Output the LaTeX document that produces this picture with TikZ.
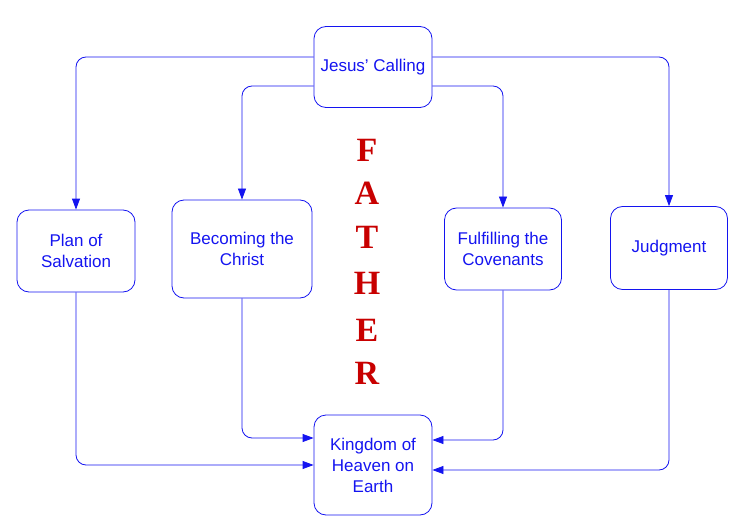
\documentclass[tikz,border=0pt]{standalone}
\usepackage{fontspec}
\setmainfont{Liberation Sans}
\newfontfamily\fatherfont{Liberation Serif}
\usetikzlibrary{arrows.meta}
\definecolor{boxblue}{RGB}{20,20,240}
\definecolor{fatherred}{RGB}{200,0,0}
\tikzset{
    stage/.style={draw=boxblue, rounded corners=12pt, line width=0.8pt, align=center,
        text=boxblue, font=\fontsize{17}{21}\selectfont, inner sep=2pt},
    link/.style={draw=boxblue, line width=0.8pt, rounded corners=10pt,
        -{Triangle[length=11pt,width=8pt]}},
    letter/.style={text=fatherred, font=\fatherfont\bfseries\fontsize{34}{34}\selectfont}
}
\begin{document}
\begin{tikzpicture}[x=1pt,y=-1pt]
    \useasboundingbox (0,0) rectangle (750,532);
    % boxes
    \node [stage, minimum width=118pt, minimum height=81pt] (jc) at (373,67) {Jesus’ Calling};
    \node [stage, minimum width=118pt, minimum height=82pt] (ps) at (76,251) {Plan of\\Salvation};
    \node [stage, minimum width=140pt, minimum height=98pt] (bc) at (242,249) {Becoming the\\Christ};
    \node [stage, minimum width=117pt, minimum height=82pt] (fc) at (503,249) {Fulfilling the\\Covenants};
    \node [stage, minimum width=117pt, minimum height=83pt] (jd) at (669,248) {Judgment};
    \node [stage, minimum width=118pt, minimum height=100pt] (kh) at (373,465) {Kingdom of\\Heaven on\\Earth};
    % the letters
    \foreach \l/\y in {F/150, A/193, T/237, H/283, E/330, R/373}
        \node [letter] at (367,\y) {\l};
    % connectors
    \draw [link] ([yshift=10pt]jc.west) -| (ps.north);
    \draw [link] ([yshift=-19pt]jc.west) -| (bc.north);
    \draw [link] ([yshift=-19pt]jc.east) -| (fc.north);
    \draw [link] ([yshift=10pt]jc.east) -| (jd.north);
    \draw [link] (bc.south) |- ([yshift=27pt]kh.west);
    \draw [link] (ps.south) |- (kh.west);
    \draw [link] (fc.south) |- ([yshift=25pt]kh.east);
    \draw [link] (jd.south) |- ([yshift=-5pt]kh.east);
\end{tikzpicture}
\end{document}
